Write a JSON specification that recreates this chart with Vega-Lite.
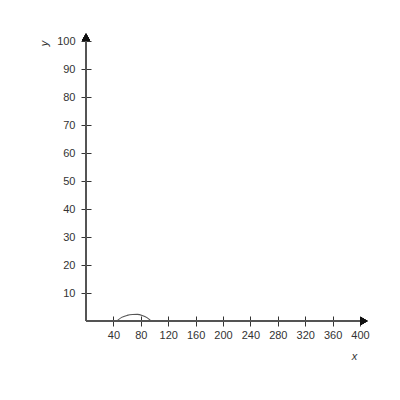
{
  "$schema": "https://vega.github.io/schema/vega-lite/v6.json",
  "autosize": "none",
  "width": 274,
  "height": 280,
  "padding": {"left": 86, "top": 41, "right": 40, "bottom": 79},
  "background": "white",
  "data": {
    "values": [
      {"x": 45, "y": 0},
      {"x": 52, "y": 1.3},
      {"x": 60, "y": 2.0},
      {"x": 68, "y": 2.3},
      {"x": 75, "y": 2.35},
      {"x": 82, "y": 2.0},
      {"x": 89, "y": 1.2},
      {"x": 95, "y": 0}
    ]
  },
  "layer": [
    {
      "mark": {"type": "line", "color": "#555", "strokeWidth": 1.1, "interpolate": "monotone", "clip": false},
      "encoding": {
        "x": {
          "field": "x",
          "type": "quantitative",
          "scale": {"domain": [0, 400], "nice": false},
          "axis": {
            "values": [40, 80, 120, 160, 200, 240, 280, 320, 360, 400],
            "offset": -5,
            "labelPadding": 3,
            "title": "x",
            "titleX": 268,
            "titleY": 34
          }
        },
        "y": {
          "field": "y",
          "type": "quantitative",
          "scale": {"domain": [0, 100], "nice": false},
          "axis": {
            "values": [10, 20, 30, 40, 50, 60, 70, 80, 90, 100],
            "offset": -5,
            "labelPadding": 6,
            "title": "y",
            "titleAngle": -90,
            "titleX": -42,
            "titleY": 2
          }
        }
      }
    },
    {
      "mark": {"type": "rule", "color": "#555", "strokeWidth": 1.2},
      "encoding": {
        "y": {
          "datum": 0,
          "type": "quantitative",
          "scale": {"domain": [0, 100], "nice": false},
          "axis": {
            "values": [10, 20, 30, 40, 50, 60, 70, 80, 90, 100],
            "offset": -5,
            "labelPadding": 6,
            "title": "y",
            "titleAngle": -90,
            "titleX": -42,
            "titleY": 2
          }
        }
      }
    },
    {
      "mark": {"type": "rule", "color": "#555", "strokeWidth": 1.2},
      "encoding": {
        "x": {
          "datum": 0,
          "type": "quantitative",
          "scale": {"domain": [0, 400], "nice": false},
          "axis": {
            "values": [40, 80, 120, 160, 200, 240, 280, 320, 360, 400],
            "offset": -5,
            "labelPadding": 3,
            "title": "x",
            "titleX": 268,
            "titleY": 34
          }
        }
      }
    },
    {
      "mark": {"type": "point", "shape": "triangle-right", "filled": true, "color": "#111", "size": 64, "opacity": 1, "clip": false},
      "encoding": {
        "x": {
          "datum": 406,
          "type": "quantitative",
          "scale": {"domain": [0, 400], "nice": false},
          "axis": {
            "values": [40, 80, 120, 160, 200, 240, 280, 320, 360, 400],
            "offset": -5,
            "labelPadding": 3,
            "title": "x",
            "titleX": 268,
            "titleY": 34
          }
        },
        "y": {
          "datum": 0,
          "type": "quantitative",
          "scale": {"domain": [0, 100], "nice": false},
          "axis": {
            "values": [10, 20, 30, 40, 50, 60, 70, 80, 90, 100],
            "offset": -5,
            "labelPadding": 6,
            "title": "y",
            "titleAngle": -90,
            "titleX": -42,
            "titleY": 2
          }
        }
      }
    },
    {
      "mark": {"type": "point", "shape": "triangle-up", "filled": true, "color": "#111", "size": 64, "opacity": 1, "clip": false},
      "encoding": {
        "x": {
          "datum": 0,
          "type": "quantitative",
          "scale": {"domain": [0, 400], "nice": false},
          "axis": {
            "values": [40, 80, 120, 160, 200, 240, 280, 320, 360, 400],
            "offset": -5,
            "labelPadding": 3,
            "title": "x",
            "titleX": 268,
            "titleY": 34
          }
        },
        "y": {
          "datum": 101.4,
          "type": "quantitative",
          "scale": {"domain": [0, 100], "nice": false},
          "axis": {
            "values": [10, 20, 30, 40, 50, 60, 70, 80, 90, 100],
            "offset": -5,
            "labelPadding": 6,
            "title": "y",
            "titleAngle": -90,
            "titleX": -42,
            "titleY": 2
          }
        }
      }
    }
  ],
  "config": {
    "view": {"stroke": null},
    "axis": {
      "domain": false,
      "grid": false,
      "tickSize": 10,
      "tickColor": "#333",
      "labelOverlap": false,
      "labelFlush": false,
      "labelBound": false,
      "labelFont": "Liberation Sans",
      "labelFontSize": 11,
      "labelColor": "#333",
      "titleFont": "Liberation Sans",
      "titleFontStyle": "italic",
      "titleFontWeight": "normal",
      "titleFontSize": 11,
      "titleColor": "#333"
    }
  }
}
